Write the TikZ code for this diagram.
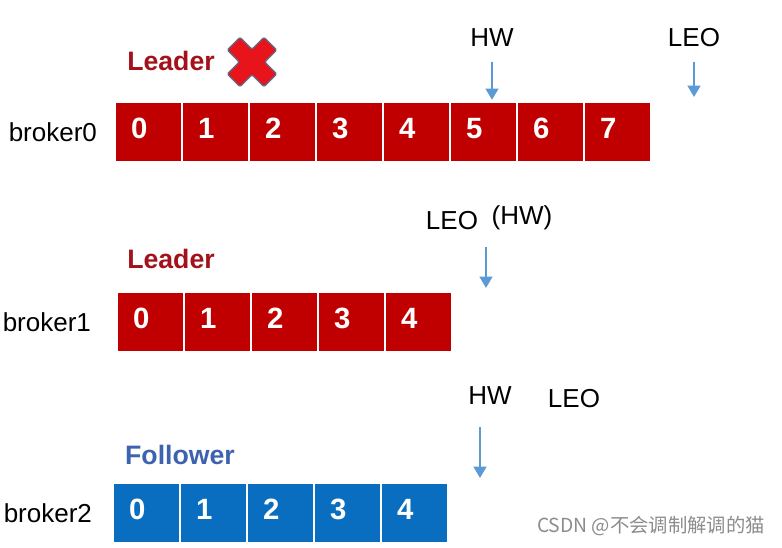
\documentclass[tikz,border=0pt]{standalone}
\usepackage{fontspec}
\setmainfont{Liberation Sans}
\newfontfamily\cjk{Noto Sans CJK SC}
\usetikzlibrary{arrows.meta,positioning}
\definecolor{CellRed}{HTML}{C00000}
\definecolor{LeaderRed}{HTML}{A3121A}
\definecolor{CellBlue}{HTML}{0A6EC0}
\definecolor{FollowBlue}{HTML}{3D63AE}
\definecolor{PtrBlue}{HTML}{5B9BD5}
\definecolor{CrossRed}{HTML}{E8141C}
\definecolor{CrossEdge}{HTML}{5F6F8A}

\begin{document}
\begin{tikzpicture}[x=0.75pt, y=-0.75pt,
  cell/.style={draw=white, line width=1.2pt, minimum width=50.25pt,
               minimum height=45pt, inner xsep=12pt, text width=26.25pt,
               align=left, text height=15.75pt, text depth=6pt,
               font=\fontsize{22}{24}\selectfont\bfseries\color{white}},
  host/.style={inner sep=0pt, font=\fontsize{19.5}{22}\selectfont},
  role/.style={inner sep=0pt, font=\fontsize{20}{22}\selectfont\bfseries},
  tag/.style={inner sep=0pt, font=\fontsize{19.5}{22}\selectfont},
  ptr/.style={draw=PtrBlue, line width=1.8pt,
              -{Triangle[length=8.5pt, width=9.5pt]}}]
  \useasboundingbox (0,0) rectangle (782,547);

  % broker0
  \foreach \i in {0,...,7}
    \node[cell, fill=CellRed] (a\i) at ({148.5+67*\i},132) {\i};
  \node[host, left=12.75pt of a0] (br0) {broker0};
  \node[role, text=LeaderRed] (ld0) at (171,61) {Leader};
  \begin{scope}[shift={(252,62)}, rotate=45]
    \filldraw[fill=CrossRed, draw=CrossEdge, line width=1pt, rounded corners=1pt]
      (9,26) -- (9,9) -- (26,9) -- (26,-9) -- (9,-9) -- (9,-26) -- (-9,-26)
      -- (-9,-9) -- (-26,-9) -- (-26,9) -- (-9,9) -- (-9,26) -- cycle;
  \end{scope}
  \node[tag] (hw0) at (492,38) {HW};
  \node[tag] (leo0) at (694,38) {LEO};
  \coordinate (leo0end) at (694,97);
  \draw[ptr] ([yshift=-11pt]hw0.south) -- ([yshift=1pt]hw0.south |- a5.north);
  \draw[ptr] ([yshift=-11pt]leo0.south) -- (leo0end);

  % broker1
  \foreach \i in {0,...,4}
    \node[cell, fill=CellRed] (b\i) at ({150.5+67*\i},322) {\i};
  \node[host, left=18.75pt of b0] (br1) {broker1};
  \node[role, text=LeaderRed] (ld1) at (171,259) {Leader};
  \node[tag] (leo1) at (452,221) {LEO};
  \node[tag] (hw1) at (522,218) {(HW)};
  \coordinate (p1top) at (486,247);
  \coordinate (p1end) at (486,288);
  \draw[ptr] (p1top) -- (p1end);

  % broker2
  \foreach \i in {0,...,4}
    \node[cell, fill=CellBlue] (c\i) at ({146.5+67*\i},513) {\i};
  \node[host, left=15pt of c0] (br2) {broker2};
  \node[role, text=FollowBlue] (fl2) at (180,455) {Follower};
  \node[tag] (hw2) at (490,396) {HW};
  \node[tag] (leo2) at (574,399) {LEO};
  \coordinate (p2top) at (480,427);
  \coordinate (p2end) at (480,478);
  \draw[ptr] (p2top) -- (p2end);

  \node[inner sep=0pt, text=black!45, font=\cjk\fontsize{14.5}{16}\selectfont]
    (wm) at (651,526) {CSDN @不会调制解调的猫};
\end{tikzpicture}
\end{document}
